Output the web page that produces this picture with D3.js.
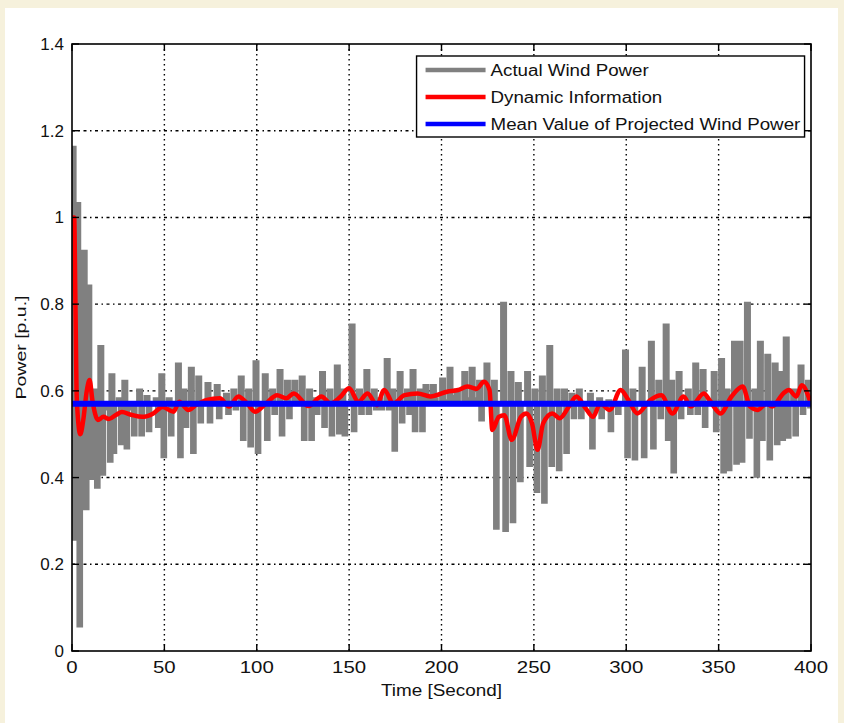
<!DOCTYPE html>
<html>
<head>
<meta charset="utf-8">
<script src="https://cdn.jsdelivr.net/npm/d3@7"></script>
<style>
  html, body { margin: 0; padding: 0; background: #f6f1dc; }
  svg { display: block; }
</style>
</head>
<body>
<div id="chart"></div>
<script>
// actual wind power: each oscillation column = time, top, bottom
var colTime = [0, 2.5, 6, 8.5, 12, 15, 19, 21, 25, 28, 32, 36, 40, 45, 48, 52, 57, 60, 64, 68,
  73, 78, 83, 87, 91, 95, 99, 104, 108, 112, 116, 120, 124, 128, 131, 135, 139, 143, 146, 151,
  155, 159, 163, 166, 170, 173, 177, 181, 184, 188, 191, 195, 200, 204, 208, 212, 216, 220, 224, 228,
  233, 237, 241, 246, 250, 254, 258, 262, 266, 270, 274, 280, 285, 290, 294, 299, 303, 308, 313, 317,
  321, 324, 328, 333, 337, 341, 347, 351, 354, 358, 361, 365, 369, 372, 376, 380, 383, 386, 390, 394, 398]
var colHigh = [1.16, 1.03, 0.92, 0.84, 0.60, 0.70, 0.56, 0.635, 0.58, 0.62, 0.56, 0.60, 0.585, 0.58, 0.635, 0.58, 0.66, 0.60, 0.65, 0.63,
  0.615, 0.61, 0.59, 0.60, 0.63, 0.60, 0.665, 0.635, 0.60, 0.645, 0.62, 0.62, 0.63, 0.60, 0.58, 0.64, 0.60, 0.655, 0.60, 0.75,
  0.60, 0.645, 0.60, 0.58, 0.67, 0.60, 0.64, 0.60, 0.645, 0.60, 0.61, 0.61, 0.625, 0.65, 0.60, 0.64, 0.65, 0.62, 0.66, 0.62,
  0.80, 0.64, 0.615, 0.64, 0.60, 0.63, 0.70, 0.60, 0.60, 0.59, 0.60, 0.59, 0.58, 0.575, 0.57, 0.69, 0.60, 0.65, 0.71, 0.62,
  0.75, 0.62, 0.64, 0.60, 0.66, 0.645, 0.64, 0.67, 0.60, 0.71, 0.71, 0.80, 0.60, 0.71, 0.68, 0.66, 0.64, 0.72, 0.60, 0.655, 0.62]
var colLow = [0.26, 0.06, 0.33, 0.40, 0.38, 0.41, 0.44, 0.46, 0.48, 0.47, 0.50, 0.50, 0.51, 0.52, 0.45, 0.50, 0.45, 0.52, 0.46, 0.53,
  0.53, 0.54, 0.55, 0.56, 0.49, 0.475, 0.46, 0.49, 0.55, 0.50, 0.54, 0.58, 0.49, 0.49, 0.55, 0.52, 0.50, 0.505, 0.50, 0.51,
  0.55, 0.55, 0.56, 0.56, 0.56, 0.465, 0.53, 0.55, 0.51, 0.51, 0.58, 0.58, 0.575, 0.585, 0.57, 0.58, 0.58, 0.535, 0.58, 0.285,
  0.28, 0.30, 0.395, 0.43, 0.37, 0.345, 0.43, 0.42, 0.46, 0.54, 0.54, 0.47, 0.54, 0.51, 0.55, 0.45, 0.445, 0.45, 0.47, 0.54,
  0.49, 0.415, 0.54, 0.55, 0.55, 0.52, 0.51, 0.415, 0.42, 0.435, 0.44, 0.495, 0.405, 0.49, 0.445, 0.48, 0.49, 0.495, 0.50, 0.55, 0.565]

// dynamic information (red)
var dynTime = [0, 1.2, 1.8, 2.6, 4.5, 6, 8, 9.5, 11, 14, 17, 20, 24, 27, 32, 38, 44, 49, 55, 58,
  63, 67, 73, 80, 85, 90, 95, 99, 105, 111, 116, 120, 128, 135, 140, 145, 150, 155, 160, 165,
  169, 174, 180, 187, 194, 203, 209, 214, 219, 223, 226, 227.5, 231, 234, 238, 243, 246, 249, 252, 255,
  260, 264, 269, 273, 278, 282, 286, 291, 297, 301, 306, 313, 319, 325, 331, 335, 342, 345, 351, 357,
  363, 367, 371, 376, 379, 385, 388, 392, 395, 400]
var dynValue = [1.0, 1.0, 0.82, 0.58, 0.50, 0.53, 0.60, 0.625, 0.58, 0.533, 0.54, 0.535, 0.545, 0.551, 0.545, 0.54, 0.548, 0.563, 0.552, 0.575,
  0.556, 0.567, 0.579, 0.583, 0.564, 0.587, 0.57, 0.552, 0.571, 0.59, 0.583, 0.594, 0.565, 0.587, 0.571, 0.585, 0.606, 0.575, 0.594, 0.567,
  0.602, 0.571, 0.59, 0.594, 0.587, 0.598, 0.602, 0.61, 0.605, 0.621, 0.602, 0.51, 0.54, 0.544, 0.487, 0.54, 0.548, 0.525, 0.464, 0.525,
  0.548, 0.537, 0.564, 0.587, 0.56, 0.54, 0.571, 0.556, 0.602, 0.58, 0.548, 0.579, 0.59, 0.548, 0.587, 0.564, 0.594, 0.579, 0.548, 0.587,
  0.61, 0.564, 0.556, 0.571, 0.564, 0.594, 0.602, 0.587, 0.613, 0.57]

// mean value of projected wind power (blue)
var meanValue = 0.57

var xTicks = [0, 50, 100, 150, 200, 250, 300, 350, 400]
var yTicks = [0, 0.2, 0.4, 0.6, 0.8, 1, 1.2, 1.4]
var legendNames = ["Actual Wind Power", "Dynamic Information", "Mean Value of Projected Wind Power"]
var legendColors = ["#808080", "#ff0000", "#0000ff"]

var W = 844, H = 723
var margin = {top: 44, right: 33, bottom: 72, left: 72}
var width = W - margin.left - margin.right
var height = H - margin.top - margin.bottom

var svg = d3.select("#chart").append("svg")
    .attr("width", W)
    .attr("height", H)
    .style("font-family", "'Liberation Sans', Arial, sans-serif")

// beige page with white figure card
svg.append("rect").attr("width", W).attr("height", H).attr("fill", "#f6f1dc")
svg.append("rect")
    .attr("x", 5).attr("y", 8).attr("width", 833).attr("height", H - 8)
    .attr("fill", "#ffffff")

var x = d3.scaleLinear().domain([0, 400]).range([0, width])
var y = d3.scaleLinear().domain([0, 1.4]).range([height, 0])

var g = svg.append("g")
    .attr("transform", "translate(" + margin.left + "," + margin.top + ")")

g.append("clipPath").attr("id", "plotClip")
  .append("rect").attr("width", width).attr("height", height)

// grid: dotted verticals, dash-dot horizontals
g.append("g")
  .selectAll("line")
  .data(xTicks.slice(1, -1))
  .join("line")
    .attr("x1", d => x(d)).attr("x2", d => x(d))
    .attr("y1", 0).attr("y2", height)
    .attr("stroke", "#000").attr("stroke-width", 1.4)
    .attr("stroke-dasharray", "1.5,3.5")

g.append("g")
  .selectAll("line")
  .data(yTicks.slice(1, -1))
  .join("line")
    .attr("x1", 0).attr("x2", width)
    .attr("y1", d => y(d)).attr("y2", d => y(d))
    .attr("stroke", "#000").attr("stroke-width", 1.4)
    .attr("stroke-dasharray", "3,3.5,1.5,3.5")

var plot = g.append("g").attr("clip-path", "url(#plotClip)")

// gray series: each column goes up to its top, drops to its bottom, back to the mean
var grayPts = []
colTime.forEach((t, i) => {
  grayPts.push([t, colHigh[i]])
  grayPts.push([t + 1.2, colLow[i]])
  grayPts.push([t + 2.2, meanValue])
})
grayPts.push([400, meanValue])

var stepLine = d3.line()
    .x(d => x(d[0]))
    .y(d => y(d[1]))
    .curve(d3.curveStepAfter)

plot.append("path")
    .datum(grayPts)
    .attr("d", stepLine)
    .attr("fill", "none")
    .attr("stroke", legendColors[0])
    .attr("stroke-width", 4.8)

var dynLine = d3.line()
    .x((d, i) => x(dynTime[i]))
    .y(d => y(d))
    .curve(d3.curveMonotoneX)

plot.append("path")
    .datum(dynValue)
    .attr("d", dynLine)
    .attr("fill", "none")
    .attr("stroke", legendColors[1])
    .attr("stroke-width", 4.5)
    .attr("stroke-linejoin", "round")

plot.append("line")
    .attr("x1", x(0)).attr("x2", x(400))
    .attr("y1", y(meanValue)).attr("y2", y(meanValue))
    .attr("stroke", legendColors[2])
    .attr("stroke-width", 6)

// axes, MATLAB style: ticks inside on all four sides
var tickLen = 7
var axisG = g.append("g").attr("stroke", "#000").attr("stroke-width", 1.4)
axisG.selectAll(".xt").data(xTicks).join("line")
    .attr("x1", d => x(d)).attr("x2", d => x(d))
    .attr("y1", height).attr("y2", height - tickLen)
axisG.selectAll(".xtt").data(xTicks).join("line")
    .attr("x1", d => x(d)).attr("x2", d => x(d))
    .attr("y1", 0).attr("y2", tickLen)
axisG.selectAll(".yt").data(yTicks).join("line")
    .attr("x1", 0).attr("x2", tickLen)
    .attr("y1", d => y(d)).attr("y2", d => y(d))
axisG.selectAll(".ytr").data(yTicks).join("line")
    .attr("x1", width).attr("x2", width - tickLen)
    .attr("y1", d => y(d)).attr("y2", d => y(d))

g.append("rect")
    .attr("width", width).attr("height", height)
    .attr("fill", "none").attr("stroke", "#000").attr("stroke-width", 1.6)

// text is wider in the reference than its height suggests, so stretch it a little
function stretch(sel, k) {
  sel.each(function() {
    var w = this.getComputedTextLength()
    d3.select(this).attr("textLength", w * k).attr("lengthAdjust", "spacingAndGlyphs")
  })
}

var xLab = g.append("g")
    .attr("font-size", 17).attr("text-anchor", "middle").attr("fill", "#111")
  .selectAll("text").data(xTicks).join("text")
    .attr("x", d => x(d)).attr("y", height + 22)
    .text(d => d)
stretch(xLab, 1.2)

g.append("g")
    .attr("font-size", 17).attr("text-anchor", "end").attr("fill", "#111")
  .selectAll("text").data(yTicks).join("text")
    .attr("x", -8).attr("y", d => y(d) + 6)
    .text(d => d)

var xTitle = g.append("text")
    .attr("x", width / 2).attr("y", height + 45)
    .attr("text-anchor", "middle").attr("font-size", 16).attr("fill", "#111")
    .text("Time [Second]")
stretch(xTitle, 1.18)

var yTitle = g.append("text")
    .attr("transform", "translate(-46," + (height / 2) + ") rotate(-90)")
    .attr("text-anchor", "middle").attr("font-size", 15).attr("fill", "#111")
    .text("Power [p.u.]")
stretch(yTitle, 1.3)

// legend
var lg = g.append("g").attr("transform", "translate(" + (x(186.5)) + ",12)")
lg.append("rect")
    .attr("width", 388).attr("height", 81)
    .attr("fill", "#fff").attr("stroke", "#000").attr("stroke-width", 1.4)
var items = lg.selectAll("g.item").data(legendNames).join("g")
    .attr("transform", (d, i) => "translate(0," + (14 + i * 27) + ")")
items.append("line")
    .attr("x1", 9).attr("x2", 69)
    .attr("stroke", (d, i) => legendColors[i]).attr("stroke-width", 4.5)
var legText = items.append("text")
    .attr("x", 74).attr("y", 6)
    .attr("font-size", 16).attr("fill", "#111")
    .text(d => d)
stretch(legText, 1.17)
</script>
</body>
</html>
